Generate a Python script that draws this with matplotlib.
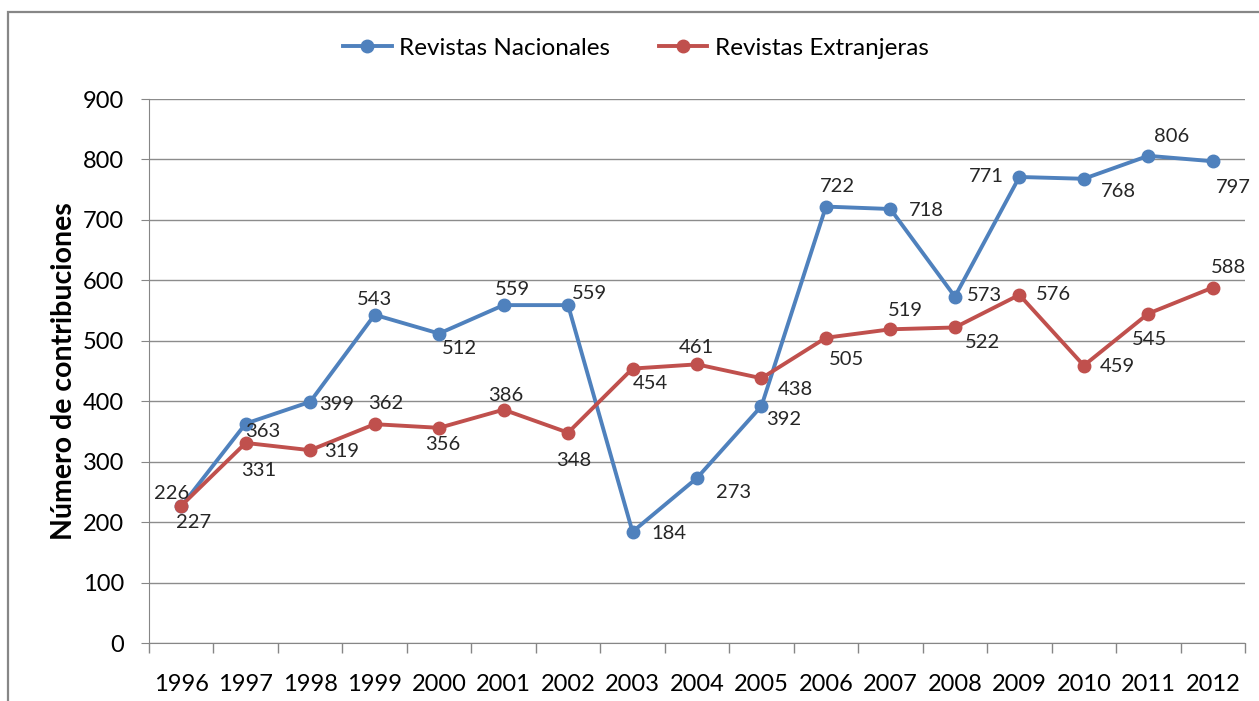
import matplotlib.pyplot as plt
from matplotlib.patches import Rectangle

plt.rcParams['font.family'] = ['Lato', 'DejaVu Sans']

years = ['1996', '1997', '1998', '1999', '2000', '2001', '2002', '2003', '2004',
         '2005', '2006', '2007', '2008', '2009', '2010', '2011', '2012']
nacionales = [226, 363, 399, 543, 512, 559, 559, 184, 273, 392, 722, 718, 573, 771, 768, 806, 797]
extranjeras = [227, 331, 319, 362, 356, 386, 348, 454, 461, 438, 505, 519, 522, 576, 459, 545, 588]

# label offsets in pixels (dx, dy), as Excel placed them
off_nac = [(-10, 13), (17, -8), (26, -3), (0, 15), (20, -15), (9, 16), (21, 12), (36, -2),
           (37, -15), (22, -13), (11, 20), (36, -1), (30, 1), (-33, 0), (35, -13), (23, 19), (21, -26)]
off_ext = [(12, -17), (13, -28), (31, -1), (11, 21), (4, -17), (2, 14), (6, -28), (18, -15),
           (-1, 17), (34, -11), (21, -22), (15, 19), (28, -15), (34, 0), (34, -1), (1, -26), (16, 20)]

blue = '#4F81BD'
red = '#C0504D'

fig = plt.figure(figsize=(12.59, 7.01), dpi=100)
ax = fig.add_axes([149 / 1259, 1 - 643 / 701, 1096 / 1259, 544 / 701])

x = range(len(years))
ax.plot(x, nacionales, color=blue, lw=2.8, marker='o', ms=9, label='Revistas Nacionales', zorder=3)
ax.plot(x, extranjeras, color=red, lw=2.8, marker='o', ms=9, label='Revistas Extranjeras', zorder=3)

for i in x:
    ax.annotate(str(nacionales[i]), (i, nacionales[i]), xytext=off_nac[i], textcoords='offset pixels',
                ha='center', va='center', fontsize=14.5, color='#262626')
    ax.annotate(str(extranjeras[i]), (i, extranjeras[i]), xytext=off_ext[i], textcoords='offset pixels',
                ha='center', va='center', fontsize=14.5, color='#262626')

ax.set_xlim(-0.5, len(years) - 0.5)
ax.set_ylim(0, 900)
ax.set_yticks(range(0, 901, 100))
ax.set_xticks(x)
ax.set_xticklabels(years, fontsize=17)
ax.tick_params(axis='x', length=0, pad=22)
ax.set_xticks([i - 0.5 for i in range(len(years) + 1)], minor=True)
ax.tick_params(axis='x', which='minor', length=7, color='#868686', width=1)
ax.tick_params(axis='y', labelsize=17, length=6, color='#868686', pad=12)
ax.grid(axis='y', color='#8C8C8C', lw=1)
ax.set_axisbelow(True)
for s in ['top', 'right']:
    ax.spines[s].set_visible(False)
ax.spines['left'].set_color('#868686')
ax.spines['bottom'].set_color('#868686')
ax.set_ylabel('Número de contribuciones', fontsize=20.5, fontweight='bold', labelpad=4)

fig.legend(loc='center', bbox_to_anchor=(0.505, 1 - 48 / 701), ncol=2, frameon=False,
           fontsize=17.5, handlelength=2.0, columnspacing=2.0, handletextpad=0.3)

fig.patches.append(Rectangle((8 / 1259, -0.05), 1.1, 1 - 12 / 701 + 0.05, transform=fig.transFigure,
                             fill=False, edgecolor='#878787', lw=1.6, clip_on=False))

fig.savefig('out.png', dpi=100)
